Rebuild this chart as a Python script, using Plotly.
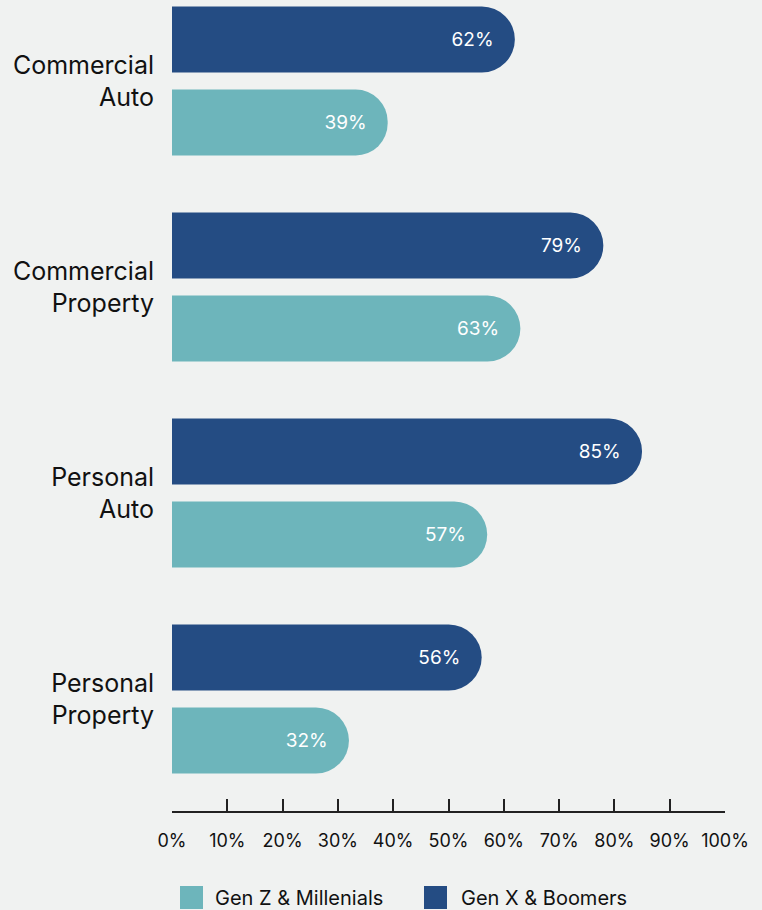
import plotly.graph_objects as go

categories = ["Commercial<br>Auto", "Commercial<br>Property", "Personal<br>Auto", "Personal<br>Property"]
series_names = ["Gen X & Boomers", "Gen Z & Millenials"]
# bar lengths as drawn in the reference
genx_values = [62, 78, 85, 56]
genz_values = [39, 63, 57, 32]
# labels as printed in the reference
genx_labels = ["62%", "79%", "85%", "56%"]
genz_labels = ["39%", "63%", "57%", "32%"]
tick_values = [0, 10, 20, 30, 40, 50, 60, 70, 80, 90, 100]
tick_labels = [f"{v}%" for v in tick_values]

NAVY = "#244c83"
TEAL = "#6db5bb"
BG = "#f0f2f1"
FONT = "Inter"

fig = go.Figure()
for name, vals, labs, col in [(series_names[0], genx_values, genx_labels, NAVY),
                              (series_names[1], genz_values, genz_labels, TEAL)]:
    fig.add_trace(go.Bar(
        y=categories, x=vals, orientation="h", name=name,
        marker=dict(color=col, cornerradius="50%", line=dict(width=0)),
        text=[l + "\u00a0\u00a0\u00a0" for l in labs], texttemplate="%{text}",
        textposition="inside", insidetextanchor="end",
        textangle=0, constraintext="none",
        textfont=dict(color="white", size=19, family=FONT),
        showlegend=False, hoverinfo="skip",
    ))

W, H = 762, 910
L, R, T, B = 172, 37, 0, 99
pw, ph = W - L - R, H - T - B

def px_x(p):
    return (p - L) / pw

def px_y(p):
    return (H - B - p) / ph

shapes = []
annotations = []
legend_items = [(series_names[1], TEAL, 180, 213), (series_names[0], NAVY, 424, 459)]
for name, col, sx, tx in legend_items:
    shapes.append(dict(type="rect", xref="paper", yref="paper",
                       x0=px_x(sx), x1=px_x(sx + 23), y0=px_y(909), y1=px_y(886),
                       fillcolor=col, line=dict(width=0)))
    annotations.append(dict(text=name, xref="paper", yref="paper", x=px_x(tx), y=px_y(898),
                            xanchor="left", yanchor="middle", showarrow=False,
                            font=dict(size=20, color="#111111", family=FONT)))

fig.update_layout(
    width=W, height=H,
    margin=dict(l=L, r=R, t=T, b=B, pad=0),
    paper_bgcolor=BG, plot_bgcolor=BG,
    barmode="group", bargap=0.194, bargroupgap=0.205,
    font=dict(family=FONT, color="#111111"),
    shapes=shapes, annotations=annotations,
    showlegend=False,
)
fig.update_xaxes(
    range=[0, 100], tickvals=tick_values, ticktext=tick_labels,
    showgrid=False, zeroline=False, showline=True, linecolor="#222222", linewidth=1.5,
    ticks="inside", ticklen=12, tickwidth=1.5, tickcolor="#222222",
    tickfont=dict(size=18, color="#111111", family=FONT), ticklabelstandoff=13,
    fixedrange=True,
)
fig.update_yaxes(
    type="category", range=[3.5437, -0.3932], autorange=False,
    showgrid=False, zeroline=False, showline=False, ticks="",
    tickfont=dict(size=25, color="#111111", family=FONT), ticklabelstandoff=17,
    fixedrange=True,
)
fig.write_html("out.html")
